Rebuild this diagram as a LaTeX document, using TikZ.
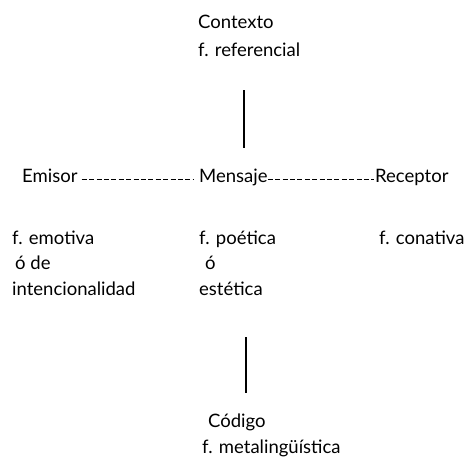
\documentclass[tikz,border=0pt]{standalone}
\usepackage{fontspec}
\setmainfont{Lato}
\usetikzlibrary{arrows.meta}

\begin{document}
\begin{tikzpicture}[x=1pt, y=-1pt]

\useasboundingbox[fill=white] (0,0) rectangle (464,459);

\begin{scope}[every node/.style={anchor=base west, inner sep=0pt, text height=0.75em, text depth=0.2em, font=\fontsize{18.5}{20}\selectfont}]
    \node (contexto) at (198, 28) {Contexto};
    \node (referencial) at (198, 56) {f. referencial};
    \node (emisor) at (22, 182) {Emisor};
    \node (mensaje) at (199, 182) {Mensaje};
    \node (receptor) at (375, 182) {Receptor};
    \node (emotiva) at (12, 244) {f. emotiva};
    \node (ode) at (15, 269) {ó de};
    \node (intencional) at (12, 295) {intencionalidad};
    \node (poetica) at (199, 244) {f. poética};
    \node (o) at (205, 269) {ó};
    \node (estetica) at (199, 295) {estética};
    \node (conativa) at (379, 244) {f. conativa};
    \node (codigo) at (208, 427) {Código};
    \node (metaling) at (202, 453) {f. metalingüística};
\end{scope}

\coordinate (l1a) at (244, 90);
\coordinate (l1b) at (244, 148);
\coordinate (l2a) at (246, 337);
\coordinate (l2b) at (246, 393);

\begin{scope}[line width=1.6pt]
    \draw (l1a) -- (l1b);
    \draw (l2a) -- (l2b);
\end{scope}

\begin{scope}[line width=0.9pt, dash pattern=on 5pt off 2.4pt]
    \draw (emisor.east) ++(4,0) -- ([xshift=-6pt]mensaje.west);
    \draw (mensaje.east) -- ([xshift=-1pt]receptor.west);
\end{scope}

\end{tikzpicture}
\end{document}
